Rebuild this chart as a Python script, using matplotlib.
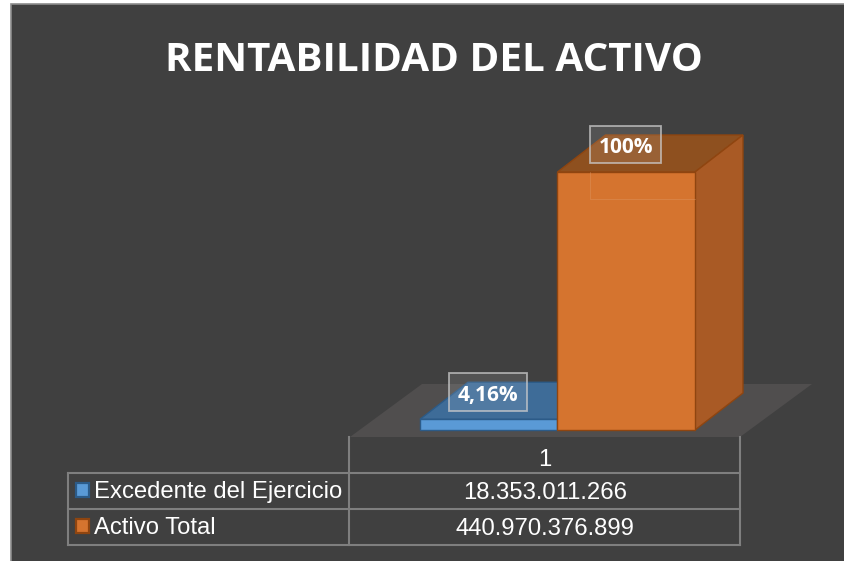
import matplotlib
matplotlib.use("Agg")
import matplotlib.pyplot as plt
from matplotlib.patches import Polygon, Rectangle

title = "RENTABILIDAD DEL ACTIVO"
series = ["Excedente del Ejercicio", "Activo Total"]
pct_values = [4.16, 100]
pct_labels = ["4,16%", "100%"]
table_values = ["18.353.011.266", "440.970.376.899"]
category = "1"

BG = "#404040"
GRID = "#7f7f7f"
fronts = ["#5a9ad6", "#d5742f"]
tops = ["#3e6c98", "#8e501f"]
sides = ["#34597e", "#a95a25"]
edges = ["#2c5b88", "#8f4510"]
label_widths = [78, 71]

W, H = 845, 561
fig = plt.figure(figsize=(W / 100, H / 100), dpi=100, facecolor="white")

# background layer works in pixels of the picture
bg = fig.add_axes([0, 0, 1, 1])
bg.set_xlim(0, W)
bg.set_ylim(H, 0)
bg.axis("off")
bg.add_patch(Rectangle((11.5, 3.5), W, H, fc=BG, ec="#8c8c8c", lw=1.2))
bg.add_patch(Polygon([(350, 437), (740, 437), (812, 384), (422, 384)], fc="#504e4e", ec="none"))

# table grid
for y in [473, 509, 545]:
    bg.plot([68, 740], [y, y], color=GRID, lw=1.5)
bg.plot([68, 68], [473, 545], color=GRID, lw=1.5)
bg.plot([349.5, 349.5], [437, 545], color=GRID, lw=1.5)
bg.plot([740, 740], [437, 545], color=GRID, lw=1.5)

table_font = dict(color="white", fontsize=17.2, family="Liberation Sans", va="center")
bg.text(545, 460, category, ha="center", **table_font)
for i, name in enumerate(series):
    y = 491 + 36 * i
    bg.add_patch(Rectangle((76.5, y - 8.5), 13, 14, fc=fronts[i], ec=edges[i], lw=1.6))
    bg.text(94, y + 1, name, ha="left", **table_font)
    bg.text(545, y + 2, table_values[i], ha="center", **table_font)

# bars, front plane of the 3d box
ax = fig.add_axes([420 / W, 1 - 430 / H, 275 / W, 258 / H])
ax.set_xlim(0, 2)
ax.set_ylim(0, 100)
ax.axis("off")
ax.patch.set_alpha(0)

dx = 48 / 137.5
dy = 37 / 2.58

for i, v in enumerate(pct_values):
    x0, x1 = i, i + 1
    ax.add_patch(Polygon([(x0, v), (x1, v), (x1 + dx, v + dy), (x0 + dx, v + dy)],
                         fc=tops[i], ec=edges[i], lw=1, clip_on=False, zorder=2 + i))
    ax.add_patch(Polygon([(x1, 0), (x1, v), (x1 + dx, v + dy), (x1 + dx, dy)],
                         fc=sides[i], ec=edges[i], lw=1, clip_on=False, zorder=2 + i))
    ax.bar(x0 + 0.5, v, width=1, color=fronts[i], edgecolor=edges[i], lw=1, clip_on=False, zorder=2.5 + i)

# faint outline left under the 100% label
ax.plot([1.24, 1.24, 2], [100, 89.5, 89.5], color="#e0a070", lw=0.6, alpha=0.4, clip_on=False, zorder=5)

for i, v in enumerate(pct_values):
    w = label_widths[i] / 137.5
    cx = i + 0.5 - 0.005
    cy = v + 10.6
    ax.add_patch(Rectangle((cx - w / 2, cy - 7.3), w, 14.6, fc=(1, 1, 1, 0.1), ec=(0.8, 0.8, 0.8, 0.75),
                           lw=1.3, clip_on=False, zorder=6))
    ax.text(cx, cy - 1.2, pct_labels[i], color="white", fontsize=15, fontweight="bold", family="Open Sans",
            ha="center", va="center", zorder=7, clip_on=False)

bg.text(433.5, 60.5, title, color="white", fontsize=29.1, fontweight="bold", family="Open Sans", ha="center", va="center")

fig.savefig("out.png", dpi=100)
plt.close(fig)
